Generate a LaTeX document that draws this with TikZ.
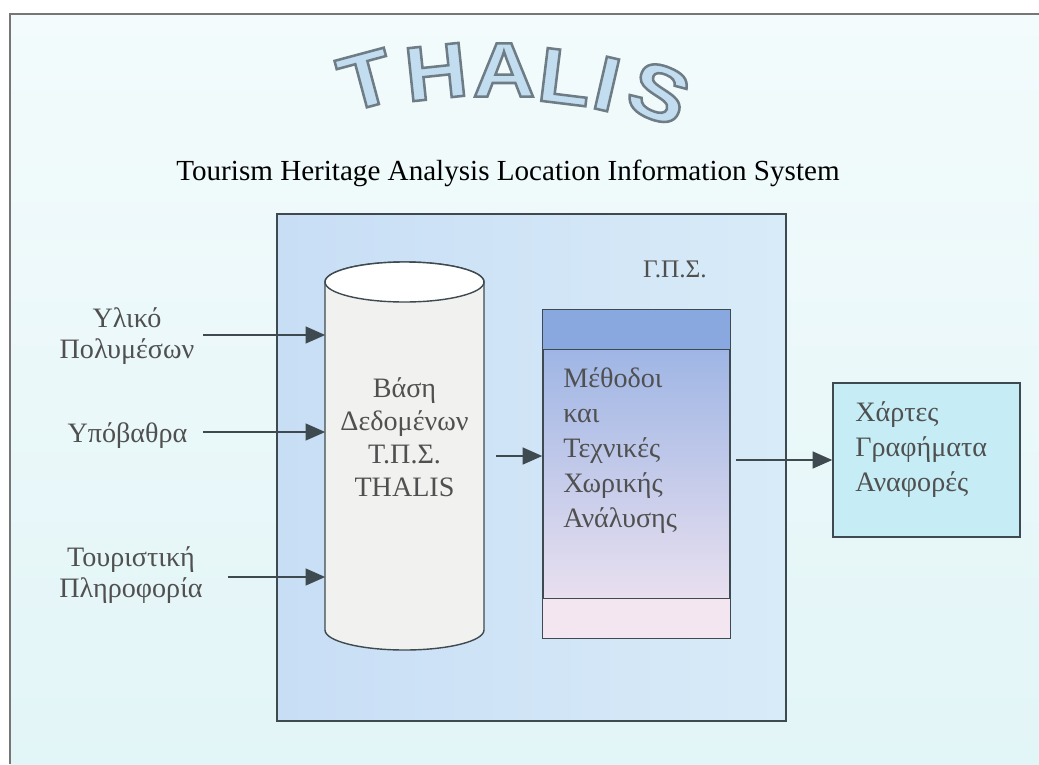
\documentclass[tikz,border=0pt]{standalone}
\usepackage{fontspec}
\setmainfont{Liberation Serif}
\newfontfamily\wordart[FakeStretch=1.12]{Liberation Sans}
\usetikzlibrary{arrows.meta,positioning}

\definecolor{framegray}{HTML}{767676}
\definecolor{linedark}{HTML}{3E4A4F}
\definecolor{txtgray}{HTML}{505050}
\definecolor{bgtop}{HTML}{F3FBFC}
\definecolor{bgbottom}{HTML}{E2F5F7}
\definecolor{gisleft}{HTML}{C8DEF5}
\definecolor{gisright}{HTML}{D8EBF8}
\definecolor{dbgray}{HTML}{F1F1EF}
\definecolor{methblue}{HTML}{8AA8E0}
\definecolor{methpink}{HTML}{F4E6F1}
\definecolor{outcyan}{HTML}{C6EDF5}
\definecolor{wordblue}{HTML}{C2DCF0}

% outlined letters (fill + stroke)
\newcommand\outlineletter[1]{\special{pdf:literal direct 2 Tr 1.8 w 0.43 0.49 0.52 RG}#1\special{pdf:literal direct 0 Tr}}

\tikzset{
    flow/.style={draw=linedark, line width=1.4pt, -{Triangle[length=14pt,width=12pt]}},
    srctext/.style={text=txtgray, font=\fontsize{20}{22.5}\selectfont, align=center, inner sep=0pt},
    boxtext/.style={text=txtgray, font=\fontsize{20}{25}\selectfont, align=left, inner sep=0pt},
    wordart/.style={text=wordblue, font=\wordart\bfseries\fontsize{55}{55}\selectfont, inner sep=0pt},
}

\begin{document}
\begin{tikzpicture}[x=0.025cm, y=-0.025cm]
    \useasboundingbox (0,0) rectangle (1039,764);
    \fill[white] (0,0) rectangle (1039,764);
    % background and frame
    \shade[top color=bgtop, bottom color=bgbottom] (10,14) rectangle (1039,764);
    \draw[framegray, line width=1.5pt] (10,764) -- (10,14) -- (1039,14);

    % title
    \foreach \ch/\x/\y/\r in {T/366/80/15, H/436/72/6, A/504/70/0, L/565/77/-7, I/607/84/-13, S/659/93/-22}
        \node[wordart, rotate=\r] (w\ch) at (\x,\y) {\outlineletter{\ch}};
    \node[font=\fontsize{20.7}{22}\selectfont, anchor=base] (subtitle) at (508,180)
        {Tourism Heritage Analysis Location Information System};

    % GIS box
    \node[draw=linedark, line width=1pt, left color=gisleft, right color=gisright,
          minimum width=12.725cm, minimum height=12.675cm, inner sep=0pt] (gis) at (531.5,467.5) {};
    \node[text=txtgray, font=\fontsize{18}{20}\selectfont, anchor=base] (gislabel) at (675,277) {Γ.Π.Σ.};

    % database cylinder
    \node[minimum width=3.95cm, minimum height=9.7cm, inner sep=0pt] (db) at (404.5,456) {};
    \filldraw[fill=dbgray, draw=linedark, line width=1pt]
        (325,282) -- (325,630) arc[start angle=180, end angle=0, x radius=79.5, y radius=20]
        -- (484,282) arc[start angle=0, end angle=-180, x radius=79.5, y radius=20] -- cycle;
    \draw[fill=white, draw=linedark, line width=1pt] (404.5,282) ellipse[x radius=79.5, y radius=20];
    \node[boxtext, align=center, font=\fontsize{20}{23.5}\selectfont, anchor=north] (dbtext) at (404.5,377)
        {Βάση\\Δεδομένων\\Τ.Π.Σ.\\THALIS};

    % methods box
    \node[draw=linedark, line width=1pt, top color=methblue!92!white, bottom color=methpink,
          minimum width=4.675cm, minimum height=8.2cm, inner sep=0pt] (meth) at (636.5,474) {};
    \filldraw[fill=methblue, draw=linedark, line width=1pt] (meth.north west) rectangle ([yshift=-1cm]meth.north east);
    \filldraw[fill=methpink, draw=linedark, line width=1pt] ([yshift=1cm]meth.south west) rectangle (meth.south east);
    \node[boxtext, anchor=north west] (methtext) at (563,367)
        {Μέθοδοι\\και\\Τεχνικές\\Χωρικής\\Ανάλυσης};

    % output box
    \node[draw=linedark, line width=1pt, fill=outcyan,
          minimum width=4.675cm, minimum height=3.85cm, inner sep=0pt] (out) at (926.5,460) {};
    \node[boxtext, anchor=north west] (outtext) at (855,401)
        {Χάρτες\\Γραφήματα\\Αναφορές};

    % inputs
    \node[srctext, anchor=north] (mm) at (127,307) {Υλικό\\Πολυμέσων};
    \node[srctext, anchor=base] (bm) at (127.5,442) {Υπόβαθρα};
    \node[srctext, anchor=north] (ti) at (131,546) {Τουριστική\\Πληροφορία};

    % connectors
    \coordinate (mmout) at (203,335);
    \coordinate (bmout) at (203,432);
    \coordinate (tiout) at (228,577);
    \draw[flow] (mmout) -- (mmout -| db.west);
    \draw[flow] (bmout) -- (bmout -| db.west);
    \draw[flow] (tiout) -- (tiout -| db.west);
    \draw[flow] ([xshift=0.3cm]db.east) -- (db.east -| meth.west);
    \draw[flow] ([xshift=0.125cm]meth.east |- out.west) -- (out.west);
\end{tikzpicture}
\end{document}
